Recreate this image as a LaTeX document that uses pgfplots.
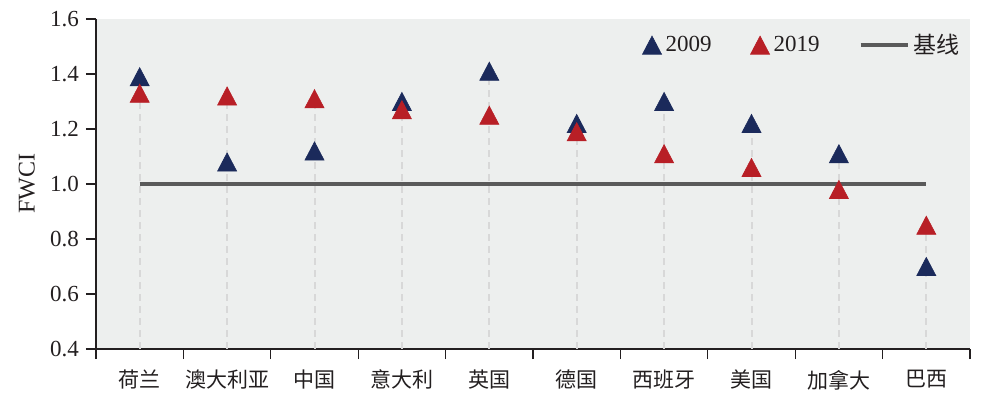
\documentclass[border=0pt]{standalone}
\usepackage{fontspec}
\setmainfont{Liberation Serif}
\newfontfamily\cjk{Noto Sans CJK SC}
\usepackage{pgfplots}
\pgfplotsset{compat=1.18}
\definecolor{navy}{HTML}{1B2A5B}
\definecolor{redc}{HTML}{B81F26}
\definecolor{bgc}{HTML}{EDEFEE}
\definecolor{basec}{HTML}{5A5A5A}
\definecolor{dashc}{HTML}{D8D8D8}
\definecolor{txt}{HTML}{231F20}
\pgfplotsset{baselegend/.style={legend image code/.code={\draw[##1] (0pt,0pt) -- (23.5pt,0pt);}}}
\begin{document}
\begin{tikzpicture}
\useasboundingbox (-48pt,-28.5pt) rectangle (449.5pt,174.5pt);
\begin{axis}[
  at={(0,0)}, anchor=south west,
  scale only axis, width=437pt, height=165pt,
  xmin=-0.5, xmax=9.5, ymin=0.4, ymax=1.6,
  axis background/.style={fill=bgc},
  axis x line*=bottom, axis y line*=left,
  axis line style={-, line width=0.6pt, txt},
  tick align=outside, major tick length=5pt,
  tick style={txt, line width=0.6pt},
  xtick={-0.5,0.5,1.5,2.5,3.5,4.5,5.5,6.5,7.5,8.5,9.5},
  xticklabels={荷兰,澳大利亚,中国,意大利,英国,德国,西班牙,美国,加拿大,巴西,{}},
  x tick label style={font=\cjk\fontsize{10.5}{12}\selectfont, xshift=21.85pt, yshift=-2pt, text=txt},
  ytick={0.4,0.6,0.8,1.0,1.2,1.4,1.6},
  /pgf/number format/assume math mode=true,
  yticklabel style={/pgf/number format/fixed, /pgf/number format/fixed zerofill, /pgf/number format/precision=1, font=\fontsize{11.5}{13}\selectfont, text=txt},
  ylabel={FWCI},
  ylabel style={font=\fontsize{12}{14}\selectfont, at={(axis description cs:-0.079,0.5)}, anchor=center, text=txt},
  legend style={draw=none, fill=none, at={(axis description cs:1.0,0.98)}, anchor=north east,
    font=\fontsize{11.5}{13}\selectfont, text=txt,
    /tikz/every even column/.append style={column sep=17.5pt}},
  legend columns=3,
]
\addplot[ycomb, dashc, line width=1pt, dash pattern=on 3.5pt off 2.5pt, mark=none, forget plot]
  coordinates {(0,1.39) (1,1.32) (2,1.31) (3,1.30) (4,1.41) (5,1.22) (6,1.30) (7,1.22) (8,1.11) (9,0.85)};
\addplot[basec, line width=2pt, mark=none, forget plot] coordinates {(0,1.0) (9,1.0)};
\addplot[only marks, mark=triangle*, mark size=5.5pt, color=navy, mark options={yshift=-1.5pt, yscale=1.1, fill=navy, draw=navy, line width=0.3pt}]
  coordinates {(0,1.39) (1,1.08) (2,1.12) (3,1.30) (4,1.41) (5,1.22) (6,1.30) (7,1.22) (8,1.11) (9,0.70)};
\addlegendentry{2009}
\addplot[only marks, mark=triangle*, mark size=5.5pt, color=redc, mark options={yshift=-1.5pt, yscale=1.1, fill=redc, draw=redc, line width=0.3pt}]
  coordinates {(0,1.33) (1,1.32) (2,1.31) (3,1.27) (4,1.25) (5,1.19) (6,1.11) (7,1.06) (8,0.98) (9,0.85)};
\addlegendentry{2019}
\addlegendimage{basec, line width=2pt, baselegend}
\addlegendentry{{\cjk 基线}}
\end{axis}
\end{tikzpicture}
\end{document}
